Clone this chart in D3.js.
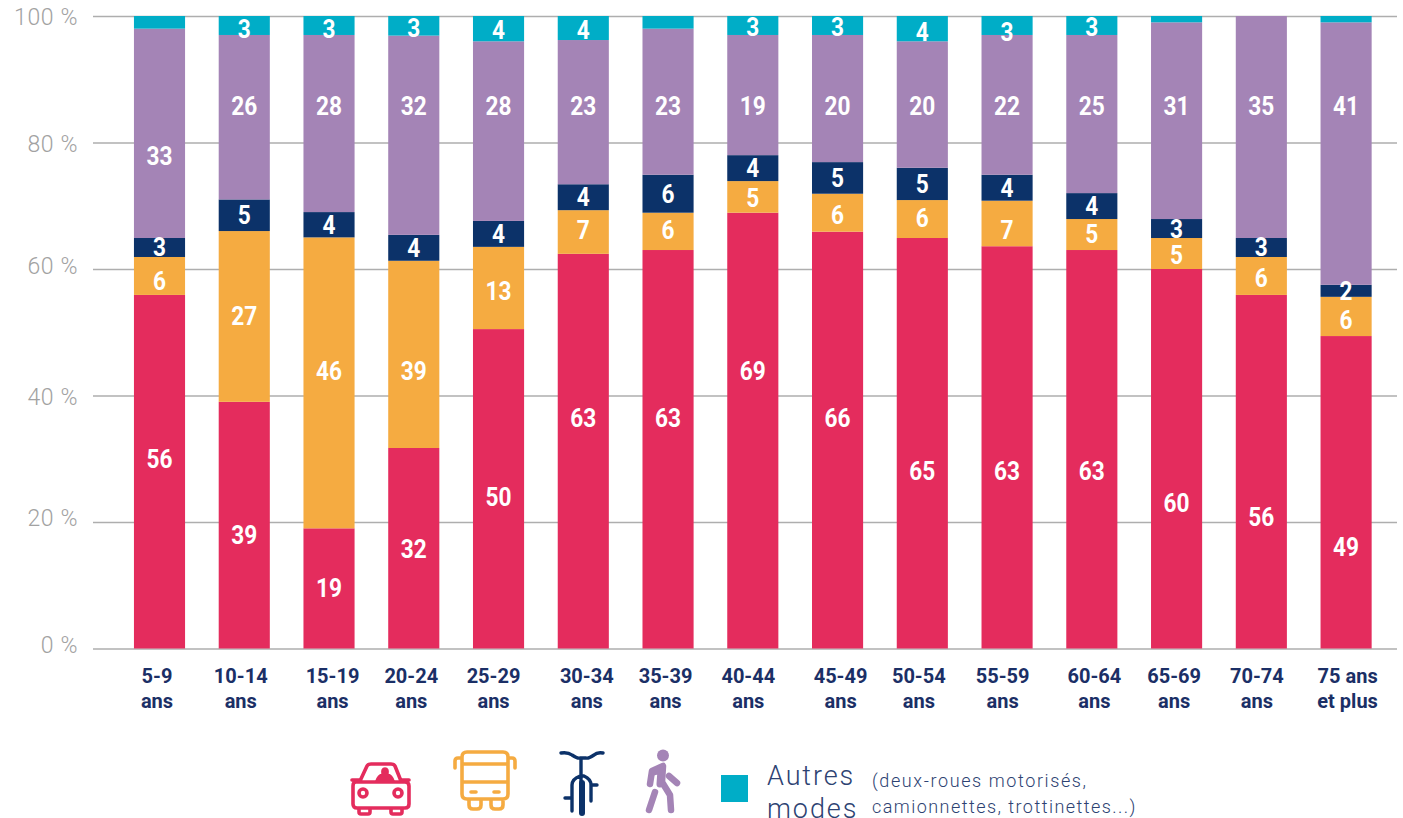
<!DOCTYPE html>
<html><head><meta charset="utf-8">
<script src="https://cdn.jsdelivr.net/npm/d3@7"></script>
<style>html,body{margin:0;padding:0;background:#fff;overflow:hidden}svg{display:block}text{font-family:Roboto,sans-serif}</style>
</head><body><svg id="c" width="1403" height="818"></svg>
<script>
const ages=["5-9|ans","10-14|ans","15-19|ans","20-24|ans","25-29|ans","30-34|ans","35-39|ans","40-44|ans","45-49|ans","50-54|ans","55-59|ans","60-64|ans","65-69|ans","70-74|ans","75 ans|et plus"];
// segment heights
const car=[55.9,39,19,31.7,50.5,62.4,63,68.9,65.9,64.9,63.6,63,60,55.9,49.4];
const transit=[6,27,46,29.6,13,6.9,5.9,5,6,6,7.2,4.9,4.9,6,6.2];
const bike=[3,5,4,4.1,4.1,4.1,6,4.1,5,5.1,4.1,4.1,3,3,1.9];
const walk=[33.1,26,28,31.5,28.4,22.8,23.1,19,20.1,20,22.1,25,31.1,35.1,41.5];
const other=[2,3,3,3.1,4,3.8,2,3,3,4,3,3,1,0,1];
// printed labels (the source prints them independently of the drawn heights)
const carLabels=[56,39,19,32,50,63,63,69,66,65,63,63,60,56,49];
const transitLabels=[6,27,46,39,13,7,6,5,6,6,7,5,5,6,6];
const bikeLabels=[3,5,4,4,4,4,6,4,5,5,4,4,3,3,2];
const walkLabels=[33,26,28,32,28,23,23,19,20,20,22,25,31,35,41];
const otherLabels=[null,3,3,3,4,4,null,3,3,4,3,3,null,null,null];
// heights (in % on the y axis) at which labels sit
const carLabelAt=[30,18,9.6,15.7,24,36.4,36.4,43.8,36.4,28,28,28,23,20.8,16];
const transitLabelAt=[58.1,52.5,43.9,43.9,56.6,66.1,66.1,71.3,68.6,68.1,66.1,65.6,62.2,58.5,51.9];
const walkLabelAt=[77.8,85.8,85.8,85.8,85.8,85.8,85.8,85.8,85.8,85.8,85.8,85.8,85.8,85.8,85.8];
const otherLabelAt=[0,97.9,97.9,98.1,97.8,97.8,0,98.3,98.3,97.5,97.4,98.3,0,0,0];
const yTicks=[0,20,40,60,80,100];
const colors=["#E42C5D","#F5AB41","#0C3269","#A484B6","#00ADC7"];
const tickNudge=[-2.5,-3.5,3.5,-2.5,-5,3.5,-2.5,-4.5,3,-3.5,-4.5,2.5,-2.5,-4.5,1.5];
const yTickNudge=[-2,-3,3,-2,3,2];

const svg=d3.select("#c");
const keys=["car","transit","bike","walk","other"];
const rows=ages.map((a,i)=>({age:a,car:car[i],transit:transit[i],bike:bike[i],walk:walk[i],other:other[i]}));
const series=d3.stack().keys(keys)(rows);
const x=d3.scaleBand().domain(ages).range([117,1388.6]).paddingInner(0.397).paddingOuter(0.2);
const y=d3.scaleLinear().domain([0,100]).range([648.5,16]);

const yAxis=d3.axisLeft(y).tickValues(yTicks).tickFormat(d=>d+" %").tickSize(0);
const yg=svg.append("g").attr("transform","translate(93,0)");
yg.call(yAxis);
yg.select(".domain").remove();
yg.selectAll(".tick line").attr("x1",0).attr("x2",1304).attr("stroke","#aeaeae").attr("stroke-width",1.5);
yg.selectAll(".tick text").attr("x",-15).attr("y",(d,i)=>yTickNudge[i]).attr("dy","0.28em").attr("font-size",23).attr("font-weight",300).attr("fill","#a2a2a2").attr("letter-spacing",0.6);

svg.append("g").selectAll("g").data(series).join("g").attr("fill",(d,i)=>colors[i])
 .selectAll("rect").data(d=>d).join("rect")
 .attr("x",d=>x(d.data.age)).attr("width",x.bandwidth())
 .attr("y",d=>y(Math.min(d[1],100))).attr("height",d=>y(d[0])-y(Math.min(d[1],100)));

const lab=svg.append("g").attr("fill","#fff").attr("font-size",25).attr("font-weight",700).attr("text-anchor","middle");
function put(labels,pos){
  lab.append("g").selectAll("text").data(labels.map((v,i)=>({v,i})).filter(d=>d.v!==null)).join("text")
   .attr("x",d=>x(ages[d.i])+x.bandwidth()/2).attr("y",d=>y(pos(d.i))).attr("dy","0.36em")
   .attr("textLength",d=>String(d.v).length*13).attr("lengthAdjust","spacingAndGlyphs").text(d=>d.v);
}
put(carLabels,i=>carLabelAt[i]);
put(transitLabels,i=>transitLabelAt[i]);
put(bikeLabels,i=>car[i]+transit[i]+bike[i]/2);
put(walkLabels,i=>walkLabelAt[i]);
put(otherLabels,i=>otherLabelAt[i]);

const xg=svg.append("g").attr("transform","translate(0,648.5)");
xg.call(d3.axisBottom(x).tickSize(0).tickFormat(""));
xg.select(".domain").remove();
xg.selectAll(".tick").each(function(d,i){
  const t=d3.select(this).select("text").attr("y",0).attr("dy",null).attr("fill","#1B2F66").attr("font-size",20).attr("font-weight",700);
  const parts=d.split("|");
  t.selectAll("tspan").data(parts).join("tspan").attr("x",tickNudge[i]).attr("y",(p,j)=>34.5+j*25).text(p=>p);
});

// legend pictograms
const leg=svg.append("g").attr("fill","none").attr("stroke-linecap","round").attr("stroke-linejoin","round");
const ic=(dx,dy,c,w)=>leg.append("g").attr("transform",`translate(${dx},${dy})`).attr("stroke",c).attr("stroke-width",w);
// car
let g=ic(350,762,colors[0],3.6);
g.append("path").attr("d","M2 18H9M52 18H59M10 19L17 4Q18 2 21 2H41Q44 2 45 4L51 19M6 20H55Q59 20 59 24V42Q59 46 55 46H7Q3 46 3 42V24Q3 20 6 20ZM9 46V50Q9 52 11 52H18Q20 52 20 50V46M41 46V50Q41 52 43 52H50Q52 52 52 50V46");
g.append("circle").attr("cx",13).attr("cy",31).attr("r",4);
g.append("circle").attr("cx",48).attr("cy",31).attr("r",4);
g.append("path").attr("d","M26 19Q28 13 32 12Q31 6 35 6Q39 6 38 12Q42 13 44 19Z").attr("fill",colors[0]).attr("stroke-width",1.5);
// bus
g=ic(453,750,colors[1],3.6);
g.append("path").attr("d","M2 18V11Q2 8 5 8H9M62 18V11Q62 8 59 8H55M14 2H50Q55 2 55 7V44Q55 49 50 49H14Q9 49 9 44V7Q9 2 14 2ZM9 14H55M9 32H55M16 49V55Q16 59 20 59H24Q28 59 28 55V49M38 49V55Q38 59 42 59H46Q50 59 50 55V49");
g.append("path").attr("d","M18 42H23M41 42H46");
// bike
g=ic(560,749,colors[2],3.4);
g.append("path").attr("d","M1 4Q8 3 12 6Q18 10 20 9H26Q28 10 34 6Q37 3 43 4M21 9V33M12 62V36Q12 30 20 27H24Q31 30 31 36V52M31 36H37M12 49H5");
g.append("path").attr("d","M22 34V64").attr("stroke-width",6);
// walker
g=ic(645,750,colors[3],6.5);
g.append("circle").attr("cx",18).attr("cy",5.5).attr("r",6).attr("fill",colors[3]).attr("stroke","none");
g.append("path").attr("d","M5 34L7 21L18 16L17 32L25 45L26 60");
g.append("path").attr("d","M8 22L16 20L15 34").attr("stroke-width",7);
g.append("path").attr("d","M24 26L32 33");
g.append("path").attr("d","M10 42L4 60");
// other swatch
svg.append("rect").attr("x",721).attr("y",775).attr("width",27).attr("height",27).attr("fill",colors[4]);
const tc="#2D4272";
const tx=(s,xp,yp,fs,ls)=>svg.append("text").attr("x",xp).attr("y",yp).attr("font-size",fs).attr("font-weight",300).attr("letter-spacing",ls).attr("fill",tc).text(s);
tx("Autres",767,785,27,1.9);
tx("modes",767,818,27,1.9);
tx("(deux-roues motorisés,",872,787,18,1.6);
tx("camionnettes, trottinettes...)",872,813,18,1.45);
</script></body></html>
